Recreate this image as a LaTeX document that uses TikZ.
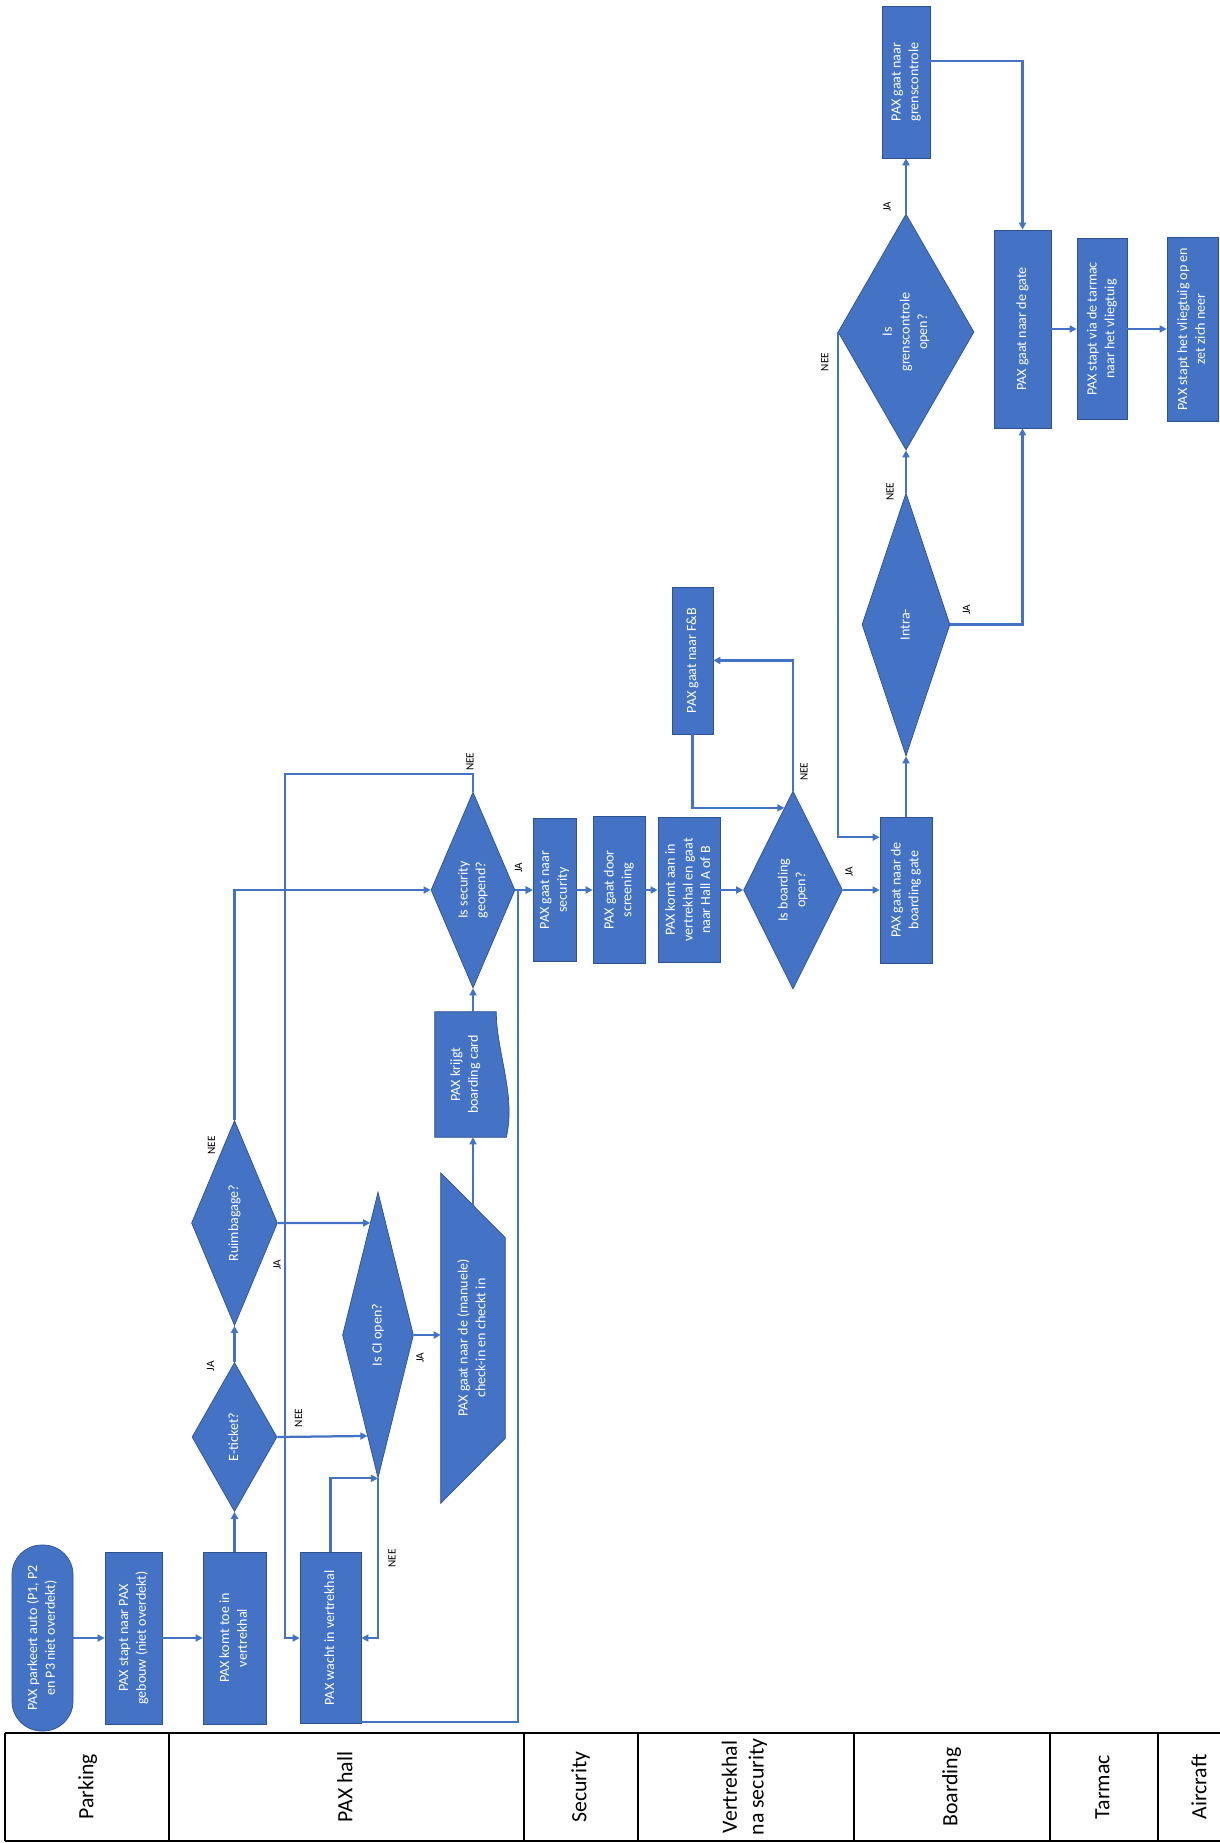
\documentclass[tikz,border=0pt]{standalone}
\usepackage{fontspec}
\setmainfont{Carlito}
\usepackage{graphicx}
\usetikzlibrary{arrows.meta,shapes.geometric,calc,backgrounds}
\definecolor{flowblue}{HTML}{4472C4}
\definecolor{flowedge}{HTML}{2F528F}
\newcommand{\vtxt}[1]{\rotatebox{90}{\begin{tabular}{@{}c@{}}#1\end{tabular}}}

\begin{document}
\begin{tikzpicture}[
  x=0.025cm, y=-0.025cm,
  >={Triangle[length=5pt,width=5pt]},
  dims/.style 2 args={minimum width=#1*0.025cm, minimum height=#2*0.025cm},
  proc/.style={
    rectangle,
    draw=flowedge,
    line width=0.5pt,
    fill=flowblue,
    text=white,
    inner sep=0pt,
    font=\fontsize{10}{12.5}\selectfont
  },
  term/.style={proc, rounded corners=0.74cm},
  shapebox/.style={
    rectangle,
    inner sep=0pt,
    text=white,
    font=\fontsize{10}{12.5}\selectfont
  },
  decision/.style={
    diamond,
    shape aspect=0.45,
    draw=flowedge,
    line width=0.5pt,
    fill=flowblue,
    text=white,
    inner sep=0pt,
    font=\fontsize{10}{12.5}\selectfont
  },
  flow/.style={->, draw=flowblue, line width=1.6pt},
  yesno/.style={font=\fontsize{8}{9.5}\selectfont, inner sep=0pt},
  lane/.style={draw=black, line width=1.3pt},
  lanelbl/.style={font=\fontsize{15.5}{19}\selectfont, inner sep=0pt}
]
  \useasboundingbox (0,0) rectangle (1220,1843);

  % --- Parking + PAX hall ---
  \node[term, dims={61}{186}] (park) at (42.5,1638) {\vtxt{PAX parkeert auto (P1, P2\\en P3 niet overdekt)}};
  \node[proc, dims={57}{172}] (stapt) at (133.5,1638) {\vtxt{PAX stapt naar PAX\\gebouw (niet overdekt)}};
  \node[proc, dims={63}{172}] (komt) at (234.5,1638) {\vtxt{PAX komt toe in\\vertrekhal}};
  \node[proc, dims={61}{171}] (wacht) at (330.5,1638) {\vtxt{PAX wacht in vertrekhal}};
  \node[decision, dims={85}{149}] (eticket) at (234.5,1437) {\vtxt{E-ticket?}};
  \node[decision, dims={86}{205}] (ruim) at (234.5,1223) {\vtxt{Ruimbagage?}};
  \node[decision, dims={71}{286}] (ci) at (378,1335) {\vtxt{Is CI open?}};
  \node[shapebox, dims={64}{330}] (manual) at (473,1338) {\vtxt{PAX gaat naar de (manuele)\\check-in en checkt in}};
  \node[shapebox, dims={61}{125}] (card) at (465.5,1074.5) {\vtxt{PAX krijgt\\boarding card}};
  \node[decision, dims={84}{196}] (secopen) at (473,890) {\vtxt{Is security\\geopend?}};

  % --- Security + vertrekhal ---
  \node[proc, dims={43}{143}] (gosec) at (554.5,890) {\vtxt{PAX gaat naar\\security}};
  \node[proc, dims={52}{147}] (screen) at (619,890) {\vtxt{PAX gaat door\\screening}};
  \node[proc, dims={62}{145}] (hall) at (689,890) {\vtxt{PAX komt aan in\\vertrekhal en gaat\\naar Hall A of B}};
  \node[proc, dims={41}{147}] (fnb) at (692.5,660.5) {\vtxt{PAX gaat naar F\&B}};
  \node[decision, dims={99}{198}] (bopen) at (793,890) {\vtxt{Is boarding\\open?}};

  % --- Boarding, tarmac, aircraft ---
  \node[proc, dims={52}{146}] (bgate) at (906,890) {\vtxt{PAX gaat naar de\\boarding gate}};
  \node[decision, dims={88}{263}] (intra) at (906,624.5) {\vtxt{Intra-}};
  \node[decision, dims={136}{236}] (grens) at (906,332) {\vtxt{Is\\grenscontrole\\open?}};
  \node[proc, dims={48}{152}] (gogrens) at (906,82) {\vtxt{PAX gaat naar\\grenscontrole}};
  \node[proc, dims={57}{198}] (gate) at (1022.5,329) {\vtxt{PAX gaat naar de gate}};
  \node[proc, dims={50}{181}] (tarmac) at (1102,329) {\vtxt{PAX stapt via de tarmac\\naar het vliegtuig}};
  \node[proc, dims={51}{184}] (board) at (1192.5,329) {\vtxt{PAX stapt het vliegtuig op en\\zet zich neer}};

  % odd shapes behind their text
  \begin{scope}[on background layer]
    \filldraw[draw=flowedge, line width=0.5pt, fill=flowblue]
      (manual.north west) -- ($(manual.north east)+(0,65)$) -- ($(manual.south east)+(0,-65)$) -- (manual.south west) -- cycle;
    \filldraw[draw=flowedge, line width=0.5pt, fill=flowblue]
      (card.north west) -- (card.north east)
      .. controls ($(card.north east)+(0,40)$) and ($(card.south east)+(20,-42)$) .. ($(card.south east)+(10,0)$)
      -- (card.south west) -- cycle;
  \end{scope}

  % connectors
  \draw[flow] (park.east) -- (stapt.west);
  \draw[flow] (stapt.east) -- (komt.west);
  \draw[flow] (komt.north) -- (eticket.south);
  \draw[flow] (eticket.north) -- node[yesno, at start, shift={(-23,4)}] {\vtxt{JA}} (ruim.south);
  \draw[flow] (eticket.east) -- node[yesno, at start, shift={(22,-19)}] {\vtxt{NEE}} (ci.264);
  \draw[flow] (ruim.east) -- node[yesno, at start, shift={(0,42)}] {\vtxt{JA}} (ci.94);
  \draw[flow] (ruim.north) |- node[yesno, at start, shift={(-22,25)}] {\vtxt{NEE}} (secopen.west);
  \draw[flow] (ci.east) -- node[yesno, at start, shift={(7,23)}] {\vtxt{JA}} (ci.east -| manual.west);
  \draw[flow] ($(manual.north)+(0,32)$) -- (manual.north |- card.south);
  \draw[flow] (card.north -| secopen.south) -- (secopen.south);
  \draw[flow] (secopen.north) -- node[yesno, at start, shift={(-2,-30)}] {\vtxt{NEE}} ++(0,-18) -| ($(wacht.west)+(-15,0)$) -- (wacht.west);
  \draw[flow] (secopen.east) -- node[yesno, at start, shift={(4,-22)}] {\vtxt{JA}} (gosec.west);
  \draw[flow] ($(wacht.south east)+(0,-2)$) -| ($(gosec.west)+(-15,0)$) -- (gosec.west);
  \draw[flow] (wacht.north) |- (ci.south);
  \draw[flow] (ci.south) |- node[yesno, at start, shift={(15,80)}] {\vtxt{NEE}} (wacht.east);
  \draw[flow] (gosec.east) -- (screen.west);
  \draw[flow] (screen.east) -- (hall.west);
  \draw[flow] (hall.east) -- (bopen.west);
  \draw[flow] (bopen.north) |- node[yesno, at start, shift={(12,-19)}] {\vtxt{NEE}} (fnb.east);
  \draw[flow] (fnb.south) |- (bopen.96);
  \draw[flow] (bopen.east) -- node[yesno, at start, shift={(7,-18)}] {\vtxt{JA}} (bgate.west);
  \draw[flow] (bgate.north) -- (intra.south);
  \draw[flow] (intra.north) -- node[yesno, at start, shift={(-15,-1)}] {\vtxt{NEE}} (grens.south);
  \draw[flow] (intra.east) -| node[yesno, at start, shift={(17,-15)}] {\vtxt{JA}} (gate.south);
  \draw[flow] (grens.north) -- node[yesno, at start, shift={(-18,-7)}] {\vtxt{JA}} (gogrens.south);
  \draw[flow] ($(gogrens.east)+(0,-21)$) -| (gate.north);
  \draw[flow] (grens.west) |- node[yesno, at start, shift={(-12,30)}] {\vtxt{NEE}} ($(bgate.north west)!0.14!(bgate.south west)$);
  \draw[flow] (gate.east) -- (tarmac.west);
  \draw[flow] (tarmac.east) -- (board.west);

  % swimlane strip
  \draw[lane] (5,1733) -- (1220,1733);
  \draw[lane] (5,1841) -- (1220,1841);
  \foreach \x in {5,169,524,638,854,1050,1158}
    \draw[lane] (\x,1733) -- (\x,1841);
  \foreach \x/\name in {88/Parking, 347/PAX hall, 581/Security, 745/{Vertrekhal\\na security}, 952/Boarding, 1104/Tarmac, 1201/Aircraft}
    \node[lanelbl] (lane-\x) at (\x,1787) {\vtxt{\name}};

\end{tikzpicture}
\end{document}
